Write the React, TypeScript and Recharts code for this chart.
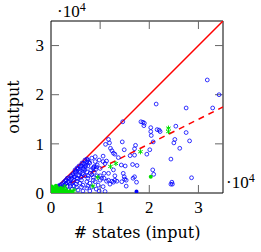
import React from 'react';
import { ScatterChart, Scatter, XAxis, YAxis, ReferenceArea, ReferenceLine } from 'recharts';

const FONT = '"DejaVu Serif", serif';
const NUM_FONT = '"Liberation Serif", serif';
const AXIS_MAX = 35000;
const tickValues = [0, 10000, 20000, 30000];
const tickLabels = ['0', '1', '2', '3'];
const xTitle = '# states (input)';
const yTitle = 'output';

// Instances: number of input states vs. number of output states
const blueStatesIn = [
  31800, 34200, 21400, 27500, 32900, 18700, 19000, 18900, 18300, 20300, 20300, 21600, 22000, 22200,
  25400, 27500, 25200, 28200, 25000, 20400, 20800, 17200, 17000, 26200, 20100, 19500, 17000, 24400,
  17500, 20700, 20900, 17000, 28600, 24600, 24400, 24700, 17400,
  14600, 11700, 11900, 11100, 14500, 14900, 12100, 12400, 12700, 13000, 10600, 11300, 11000, 9000,
  8800, 9100, 15100, 14900, 15300, 14400, 10800, 11700, 12400, 12700, 13000, 10000, 10300, 15300,
  13700, 16100, 14700, 15000, 16700, 16600, 9400, 8600, 10600, 11000, 9000, 10600, 10000, 8800,
  10800, 11700, 12700, 14300,
  6900, 7300, 6600, 7100, 6500, 6900, 7300, 6400, 6900, 7500, 6200, 7300, 5600, 5200, 4500, 5900,
  8300, 7900, 9000, 8600, 4200, 3500, 2800, 2200, 3900, 5200, 6200, 7300, 8300, 9600, 6300, 7300,
  5200, 6600, 7600, 10000, 11300, 13000, 13400, 12000, 7900,
  1400, 1800, 2200, 2600, 3100, 3700, 4100, 4500, 4900, 5300, 5700, 2400, 3300, 3900, 4700, 5100,
  3100, 4300, 4700, 5300, 5700, 6500, 7500, 1200, 2200, 3500, 4300, 5500, 6500, 9200, 9800, 4900,
  5500, 6100, 7500, 7900, 8300, 7500, 8100, 9400, 9800, 3300,
  2900, 3600, 4400, 5000, 5800, 6000, 6800, 7700, 8000, 8700, 6100, 5400, 4000, 3000, 2000,
  8500, 9200, 6700, 5900, 4800, 7000,
];
const blueStatesOut = [
  23000, 20000, 18100, 17300, 17300, 14400, 14200, 13700, 14500, 13300, 12500, 12900, 12800, 12500,
  13600, 12300, 10900, 10600, 10200, 11700, 10400, 9700, 9000, 9100, 8800, 7900, 7700, 6900,
  5600, 4700, 3800, 3300, 3100, 2200, 1800, 1800, 2200,
  14500, 10900, 10200, 9900, 10400, 8800, 9100, 8600, 8100, 7900, 7500, 6500, 6000, 6400,
  5400, 4800, 5500, 3300, 2600, 2300, 3000, 2600, 2400, 2200, 2600, 2600, 3000, 1400,
  7200, 7600, 4000, 2800, 3000, 5800, 3500, 2600, 1300, 300, 7400, 6400, 5000, 4200,
  4000, 4000, 4700, 5700,
  6700, 6400, 6000, 5700, 5000, 4700, 4300, 4000, 3500, 3000, 2600, 2300, 3700, 3000, 2300, 2000,
  3700, 2000, 2300, 3200, 3000, 2300, 1600, 1200, 1400, 1200, 1200, 1000, 1200, 1600, 6100, 6900,
  4500, 3800, 3500, 3500, 2400, 3500, 2400, 1800, 400,
  1400, 1600, 1800, 2200, 2600, 2800, 3500, 3900, 4700, 5100, 5500, 1200, 1400, 1800, 1400, 1800,
  2000, 2000, 3300, 2400, 3500, 1600, 1400, 800, 600, 600, 800, 600, 400, 800, 400, 4300,
  4900, 5500, 5500, 6100, 7100, 6700, 4700, 5700, 6700, 3000,
  2500, 3100, 3600, 4200, 4600, 5200, 5900, 6300, 4000, 5200, 3200, 2900, 2700, 1900, 1500,
  5000, 5300, 4900, 4200, 3300, 5400,
];
const blueSolidIn = [17400];
const blueSolidOut = [300];
const greenStarIn = [23900, 23900, 18200, 12100, 13200, 9500, 8500, 4700, 2800, 1200, 2000, 600];
const greenStarOut = [13200, 12500, 8400, 5400, 6000, 3200, 1400, 600, 1300, 300, 700, 900];
const greenDotIn = [
  20300, 200, 600, 1000, 800, 1400, 1800, 2200, 1200, 400, 2600, 3100, 3500, 3900, 1600, 2000, 2400,
  4300, 1000, 100, 200, 500, 2900, 1400, 300,
];
const greenDotOut = [
  3300, 200, 400, 200, 800, 600, 400, 200, 1100, 1000, 400, 600, 200, 400, 0, 1000, 800,
  200, 1500, 600, 1300, 0, 100, 200, 400,
];
// Reference lines: output = input, output = input / 2
const equalIn = [0, AXIS_MAX];
const equalOut = [0, AXIS_MAX];
const halfIn = [0, AXIS_MAX];
const halfOut = [0, AXIS_MAX / 2];

const zip = (xs: number[], ys: number[]) => xs.map((x, i) => ({ x, y: ys[i] }));

const blueData = zip(blueStatesIn, blueStatesOut);
const blueSolidData = zip(blueSolidIn, blueSolidOut);
const greenStarData = zip(greenStarIn, greenStarOut);
const greenDotData = zip(greenDotIn, greenDotOut);
const equalData = zip(equalIn, equalOut);
const halfData = zip(halfIn, halfOut);

const GREEN = '#00e000';
const BLUE = '#0000ff';
const RED = '#ff0000';
const TICK_GREY = '#666666';

// Plot box
const WIDTH = 261;
const HEIGHT = 252;
const MARGIN = { top: 21, right: 38, bottom: 0, left: 0 };
const Y_AXIS_W = 51;
const X_AXIS_H = 59;
const PLOT_SIZE = WIDTH - MARGIN.right - MARGIN.left - Y_AXIS_W;
const TICK_LEN = 8;
// inner tick length expressed in axis units (both axes share the same scale)
const TICK_SPAN = (AXIS_MAX * TICK_LEN) / PLOT_SIZE;
const innerTickValues = tickValues.filter((v) => v > 0);

const fmt = (v: number) => tickLabels[tickValues.indexOf(v)] ?? '';

const XTickLabel = (p: any) => (
  <text x={p.x} y={p.y} dy="0.71em" textAnchor="middle" fontFamily={NUM_FONT} fontSize={17} fill="#000">
    {fmt(p.payload.value)}
  </text>
);
const YTickLabel = (p: any) => (
  <text x={p.x} y={p.y} dy="0.34em" textAnchor="end" fontFamily={NUM_FONT} fontSize={17} fill="#000">
    {fmt(p.payload.value)}
  </text>
);

const NoMark = () => <g />;
const Ring = (p: any) => (
  <circle cx={p.cx} cy={p.cy} r={1.9} fill="none" stroke={BLUE} strokeWidth={0.8} />
);
const SolidBlue = (p: any) => <circle cx={p.cx} cy={p.cy} r={2} fill={BLUE} />;
const SolidGreen = (p: any) => <circle cx={p.cx} cy={p.cy} r={2} fill={GREEN} />;
const Asterisk = (p: any) => {
  const r = 2.6;
  const c = 0.866 * r;
  const s = 0.5 * r;
  return (
    <g stroke={GREEN} strokeWidth={1}>
      <line x1={p.cx} y1={p.cy - r} x2={p.cx} y2={p.cy + r} />
      <line x1={p.cx - c} y1={p.cy - s} x2={p.cx + c} y2={p.cy + s} />
      <line x1={p.cx - c} y1={p.cy + s} x2={p.cx + c} y2={p.cy - s} />
    </g>
  );
};

const tickStyle = { stroke: TICK_GREY, strokeWidth: 1, ifOverflow: 'visible' as const };

export default function App() {
  return (
    <div style={{ position: 'absolute', left: 0, top: 0, width: WIDTH, height: HEIGHT, background: '#fff' }}>
      <ScatterChart width={WIDTH} height={HEIGHT} margin={MARGIN}>
        <XAxis
          dataKey="x" type="number" domain={[0, AXIS_MAX]} ticks={tickValues} interval={0}
          tickLine={false} tickSize={0} tickMargin={8} axisLine={false}
          height={X_AXIS_H} tick={<XTickLabel />} allowDataOverflow
        />
        <YAxis
          dataKey="y" type="number" domain={[0, AXIS_MAX]} ticks={tickValues} interval={0}
          tickLine={false} tickSize={0} tickMargin={7} axisLine={false}
          width={Y_AXIS_W} tick={<YTickLabel />} allowDataOverflow
        />
        {innerTickValues.map((v) => (
          <ReferenceLine key={`b${v}`} segment={[{ x: v, y: 0 }, { x: v, y: TICK_SPAN }]} {...tickStyle} />
        ))}
        {innerTickValues.map((v) => (
          <ReferenceLine key={`t${v}`} segment={[{ x: v, y: AXIS_MAX }, { x: v, y: AXIS_MAX - TICK_SPAN }]} {...tickStyle} />
        ))}
        {innerTickValues.map((v) => (
          <ReferenceLine key={`l${v}`} segment={[{ x: 0, y: v }, { x: TICK_SPAN, y: v }]} {...tickStyle} />
        ))}
        {innerTickValues.map((v) => (
          <ReferenceLine key={`r${v}`} segment={[{ x: AXIS_MAX, y: v }, { x: AXIS_MAX - TICK_SPAN, y: v }]} {...tickStyle} />
        ))}
        <Scatter data={equalData} line={{ stroke: RED, strokeWidth: 1.5 }} shape={NoMark} isAnimationActive={false} />
        <Scatter
          data={halfData} line={{ stroke: RED, strokeWidth: 1.5, strokeDasharray: '6 5' }}
          shape={NoMark} isAnimationActive={false}
        />
        <Scatter data={blueData} shape={Ring} isAnimationActive={false} />
        <Scatter data={blueSolidData} shape={SolidBlue} isAnimationActive={false} />
        <Scatter data={greenDotData} shape={SolidGreen} isAnimationActive={false} />
        <Scatter data={greenStarData} shape={Asterisk} isAnimationActive={false} />
        <ReferenceArea
          x1={0} x2={AXIS_MAX} y1={0} y2={AXIS_MAX} fill="none" fillOpacity={0}
          stroke="#000" strokeWidth={1} ifOverflow="visible"
        />
        <text x={57} y={17} fontFamily={NUM_FONT} fontSize={17} fill="#000">
          ·10<tspan dy={-6} fontSize={12}>4</tspan>
        </text>
        <text x={226} y={188} fontFamily={NUM_FONT} fontSize={17} fill="#000">
          ·10<tspan dy={-6} fontSize={12}>4</tspan>
        </text>
        <text x={137} y={238} textAnchor="middle" fontFamily={FONT} fontSize={16} fill="#000">
          {xTitle}
        </text>
        <text
          x={18.5} y={107} textAnchor="middle" fontFamily={FONT} fontSize={16} fill="#000"
          transform="rotate(-90 18.5 107)"
        >
          {yTitle}
        </text>
      </ScatterChart>
    </div>
  );
}
